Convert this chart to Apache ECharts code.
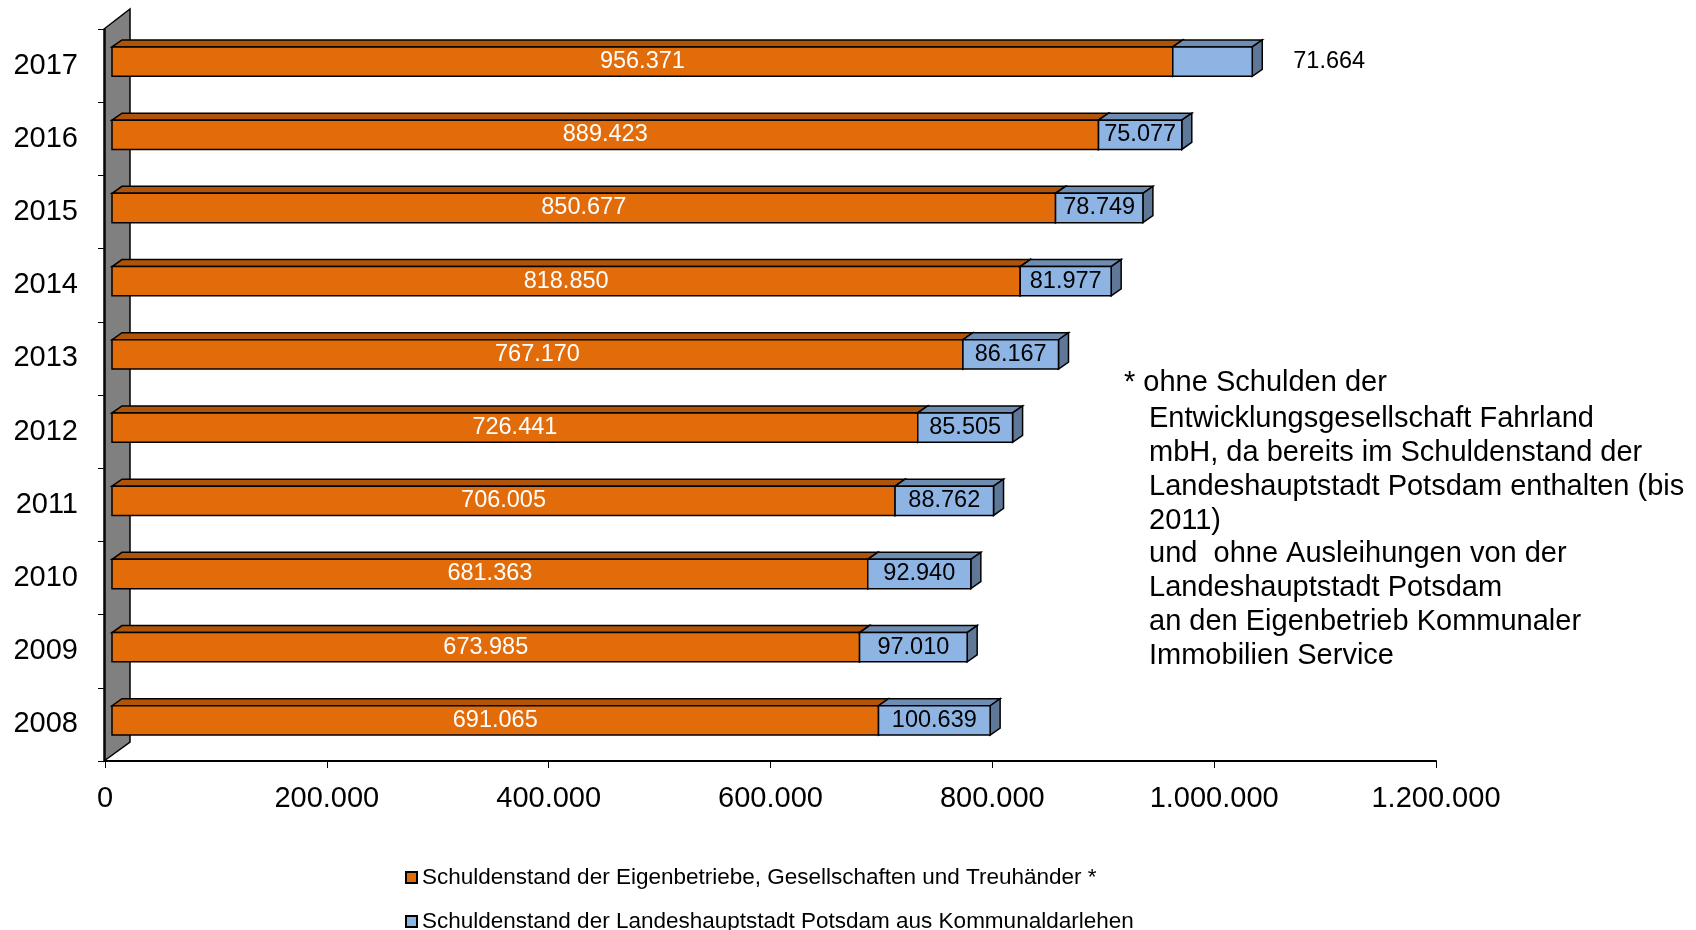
<!DOCTYPE html>
<html>
<head>
<meta charset="utf-8">
<script src="https://cdn.jsdelivr.net/npm/echarts@6/dist/echarts.min.js"></script>
<style>
  html, body { margin: 0; padding: 0; background: #fff; }
  #chart { width: 1696px; height: 930px; }
</style>
</head>
<body>
<div id="chart"></div>
<script>
var years = ['2008', '2009', '2010', '2011', '2012', '2013', '2014', '2015', '2016', '2017'];
var eigenbetriebe = [691065, 673985, 681363, 706005, 726441, 767170, 818850, 850677, 889423, 956371];
var kommunal = [100639, 97010, 92940, 88762, 85505, 86167, 81977, 78749, 75077, 71664];
var labelOutside = ['2017'];
var xTicks = [0, 200000, 400000, 600000, 800000, 1000000, 1200000];

var seriesNames = [
    'Schuldenstand der Eigenbetriebe, Gesellschaften und Treuhänder *',
    'Schuldenstand der Landeshauptstadt Potsdam aus Kommunaldarlehen'
];
var noteFirst = '* ohne Schulden der';
var note = 'Entwicklungsgesellschaft Fahrland\nmbH, da bereits im Schuldenstand der\n' +
    'Landeshauptstadt Potsdam enthalten (bis\n2011)\nund  ohne Ausleihungen von der\n' +
    'Landeshauptstadt Potsdam\nan den Eigenbetrieb Kommunaler\nImmobilien Service';

var FONT = '"Liberation Sans", Arial, sans-serif';

function fmt(v) {
    return String(v).replace(/\B(?=(\d{3})+(?!\d))/g, '.');
}

// 3d box segment
function makeRender(front, top, side, textColor) {
    return function (params, api) {
        var cat = api.value(0);
        var p0 = api.coord([api.value(1), cat]);
        var p1 = api.coord([api.value(2), cat]);
        var h = api.size([0, 1])[1] * 0.4;
        var dx = 10, dy = -7;
        var x0 = p0[0] + 7, x1 = p1[0] + 7;
        var yc = p0[1] - 4;
        var yt = yc - h / 2, yb = yc + h / 2;
        var line = { stroke: '#000', lineWidth: 1.5 };
        var children = [
            { type: 'polygon', shape: { points: [[x0, yt], [x0 + dx, yt + dy], [x1 + dx, yt + dy], [x1, yt]] },
              style: Object.assign({ fill: top }, line) },
            { type: 'polygon', shape: { points: [[x1, yt], [x1 + dx, yt + dy], [x1 + dx, yb + dy], [x1, yb]] },
              style: Object.assign({ fill: side }, line) },
            { type: 'rect', shape: { x: x0, y: yt, width: x1 - x0, height: h },
              style: Object.assign({ fill: front }, line) }
        ];
        var txt = fmt(api.value(3));
        var outside = labelOutside.indexOf(years[cat]) >= 0 && textColor === '#000';
        children.push({
            type: 'text',
            style: {
                text: txt,
                x: outside ? x1 + dx + 31 : (x0 + x1) / 2,
                y: yc,
                align: outside ? 'left' : 'center',
                verticalAlign: 'middle',
                fill: textColor,
                font: '23.5px ' + FONT
            }
        });
        return { type: 'group', children: children };
    };
}

var dataOrange = years.map(function (y, i) { return [i, 0, eigenbetriebe[i], eigenbetriebe[i]]; });
var dataBlue = years.map(function (y, i) { return [i, eigenbetriebe[i], eigenbetriebe[i] + kommunal[i], kommunal[i]]; });

function legendFor(name, top) {
    return {
        left: 400,
        top: top,
        itemWidth: 11,
        itemHeight: 11,
        icon: 'rect',
        itemStyle: { borderColor: '#000', borderWidth: 2 },
        textStyle: { color: '#000', fontSize: 22.5, fontFamily: FONT },
        data: [name]
    };
}

var myChart = echarts.init(document.getElementById('chart'));
var option = {
    backgroundColor: '#fff',
    animation: false,
    grid: { left: 105, right: 260, top: 29, bottom: 169, containLabel: false },
    xAxis: {
        type: 'value',
        min: 0,
        max: 1200000,
        interval: 200000,
        splitLine: { show: false },
        axisLine: { show: true, lineStyle: { color: '#000', width: 2 } },
        axisTick: { show: true, length: 7, lineStyle: { color: '#000' } },
        axisLabel: {
            margin: 23,
            color: '#000',
            fontSize: 29,
            fontFamily: FONT,
            formatter: function (v) { return xTicks.indexOf(v) >= 0 ? fmt(v) : ''; }
        }
    },
    yAxis: {
        type: 'category',
        data: years,
        axisLine: { show: true, lineStyle: { color: '#000', width: 1.5 } },
        axisTick: { show: true, length: 7, inside: false, lineStyle: { color: '#000' } },
        axisLabel: { margin: 27, color: '#000', fontSize: 29, fontFamily: FONT }
    },
    legend: [legendFor(seriesNames[0], 861), legendFor(seriesNames[1], 905)],
    graphic: [
        {
            type: 'polygon', z: 0,
            shape: { points: [[104, 761], [130, 742], [130, 9], [104, 29]] },
            style: { fill: '#808080', stroke: '#000', lineWidth: 1.5 }
        },
        {
            type: 'text', left: 1124, top: 368,
            style: { text: noteFirst, font: '29px ' + FONT, fill: '#000' }
        },
        {
            type: 'text', left: 1149, top: 368 + 33.9,
            style: { text: note, font: '29px ' + FONT, fill: '#000', lineHeight: 33.9 }
        }
    ],
    series: [
        {
            name: seriesNames[0],
            type: 'custom',
            itemStyle: { color: '#E36C0A' },
            renderItem: makeRender('#E36C0A', '#B0540A', '#A04C08', '#fff'),
            encode: { x: [1, 2], y: 0 },
            data: dataOrange,
            z: 3
        },
        {
            name: seriesNames[1],
            type: 'custom',
            itemStyle: { color: '#8EB4E3' },
            renderItem: makeRender('#8EB4E3', '#6F8CB1', '#5F7898', '#000'),
            encode: { x: [1, 2], y: 0 },
            data: dataBlue,
            z: 4
        }
    ]
};
myChart.setOption(option);
</script>
</body>
</html>
